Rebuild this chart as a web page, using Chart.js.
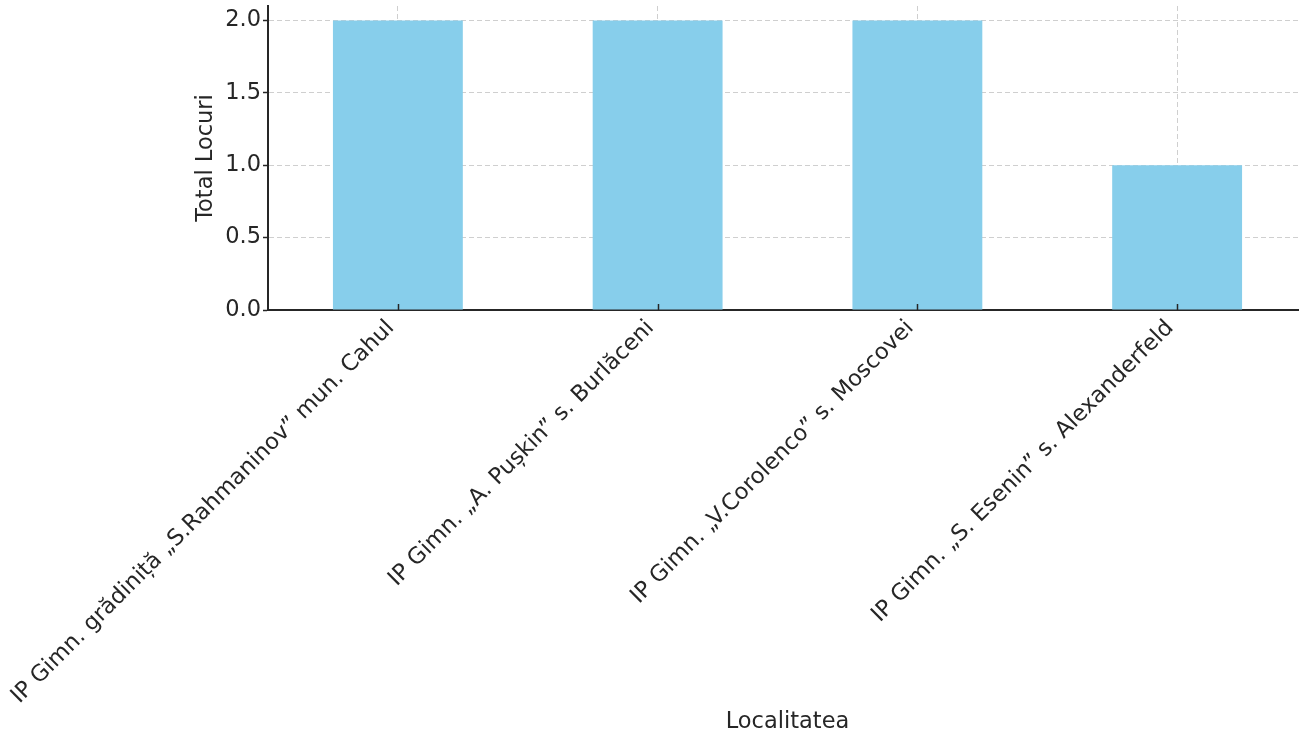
<!DOCTYPE html>
<html>
<head>
<meta charset="utf-8">
<script src="https://cdn.jsdelivr.net/npm/chart.js@4/dist/chart.umd.min.js"></script>
<style>
  html, body { margin: 0; padding: 0; overflow: hidden; background: #ffffff; }
  #wrap { position: relative; width: 1307px; height: 734px; }
</style>
</head>
<body>
<div id="wrap"><canvas id="c"></canvas></div>
<script>
const categories = [
  "IP Gimn. grădiniță „S.Rahmaninov” mun. Cahul",
  "IP Gimn. „A. Pușkin” s. Burlăceni",
  "IP Gimn. „V.Corolenco” s. Moscovei",
  "IP Gimn. „S. Esenin” s. Alexanderfeld"
];
const totalLocuri = [2, 2, 2, 1];
const yTicks = [0.0, 0.5, 1.0, 1.5, 2.0];
const xTitle = "Localitatea";
const yTitle = "Total Locuri";

const TEXT = '#262626';
const FONT = { family: 'DejaVu Sans', size: 22.5 };

const inwardXTicks = {
  id: 'inwardXTicks',
  afterDraw(chart) {
    const x = chart.scales.x;
    const ctx = chart.ctx;
    ctx.save();
    ctx.strokeStyle = TEXT;
    ctx.lineWidth = 1.5;
    for (let i = 0; i < categories.length; i++) {
      const px = Math.round(x.getPixelForTick(i)) + 0.5;
      ctx.beginPath();
      ctx.moveTo(px, x.top);
      ctx.lineTo(px, x.top - 6);
      ctx.stroke();
    }
    ctx.restore();
  }
};

new Chart(document.getElementById('c'), {
  type: 'bar',
  data: {
    labels: categories,
    datasets: [{
      data: totalLocuri,
      backgroundColor: '#87CEEB',
      borderWidth: 0,
      barPercentage: 0.5,
      categoryPercentage: 1.0
    }]
  },
  options: {
    responsive: true,
    maintainAspectRatio: false,
    animation: false,
    events: [],
    layout: { padding: { left: 186, top: 6, right: 0, bottom: 0 } },
    plugins: { legend: { display: false }, tooltip: { enabled: false }, title: { display: false } },
    scales: {
      x: {
        offset: true,
        z: 1,
        grid: { offset: false, color: '#cfcfcf', lineWidth: 1, drawTicks: false },
        border: { display: true, color: TEXT, width: 2, dash: [5, 3] },
        ticks: { color: TEXT, font: FONT, minRotation: 45, maxRotation: 45, autoSkip: false, padding: 5, labelOffset: -7 },
        title: { display: true, text: xTitle, color: TEXT, font: FONT, padding: { top: 0, bottom: -2 } },
        afterFit(s) { s.height = 424; s.paddingLeft = 0; s.paddingRight = 0; }
      },
      y: {
        min: 0,
        max: 2.1,
        z: 1,
        grid: { color: '#cfcfcf', lineWidth: 1, drawTicks: true, tickLength: 5, tickColor: TEXT, tickWidth: 1.5 },
        border: { display: true, color: TEXT, width: 2, dash: [5, 3] },
        afterBuildTicks(s) { s.ticks = yTicks.map(v => ({ value: v })); },
        ticks: { color: TEXT, font: FONT, padding: 2, callback: v => Number(v).toFixed(1) },
        title: { display: true, text: yTitle, color: TEXT, font: FONT, padding: { top: 7, bottom: 4 } },
        afterFit(s) { s.width = 82; s.paddingTop = 0; s.paddingBottom = 0; }
      }
    }
  },
  plugins: [inwardXTicks]
});
</script>
</body>
</html>
